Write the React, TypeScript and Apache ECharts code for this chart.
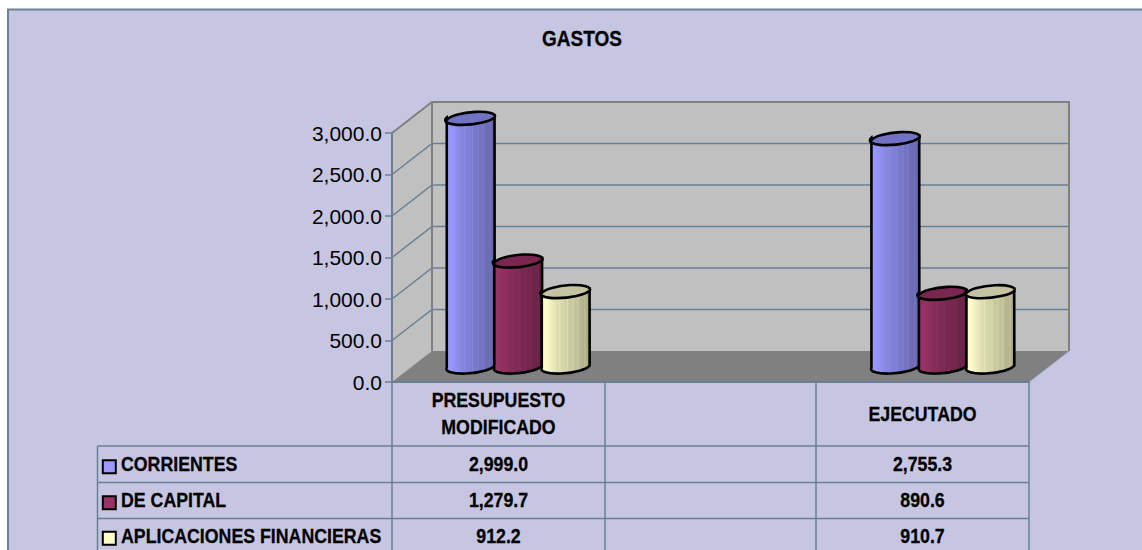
import React, { useEffect, useRef } from "react";
import * as echarts from "echarts";

const categories = ["PRESUPUESTO\nMODIFICADO", "", "EJECUTADO"];
const corrientes = [2999.0, null, 2755.3];
const deCapital = [1279.7, null, 890.6];
const aplicaciones = [912.2, null, 910.7];
const seriesNames = ["CORRIENTES", "DE CAPITAL", "APLICACIONES FINANCIERAS"];
const seriesValues = [corrientes, deCapital, aplicaciones];
const seriesColors = ["#9999FF", "#993366", "#FFFFCC"];
const seriesTops = ["#7272C4", "#7A2750", "#C4C4A2"];
const yTicks = [0, 500, 1000, 1500, 2000, 2500, 3000];

const FONT = '"Liberation Sans", Arial, sans-serif';
const NARROW = 0.845;
const SLATE = "#6A7F94";
const GREY = "#808080";
const DEPTH_X = 40;
const DEPTH_Y = 31;
const BAR_DX = 20;
const TOP_DY = 15.5;
const BASE_DY = 16.5;
const BAR_STEP = 47.5;
const RX = 24;
const RY = 6.4;
const TILT = (5.5 * Math.PI) / 180;
const stripes: [number, number][] = [
  [0, 1], [0.12, 0.98], [0.36, 0.86], [0.38, 0.9], [0.4, 0.85], [0.52, 0.82], [0.54, 0.87], [0.56, 0.8],
  [0.64, 0.78], [0.66, 0.84], [0.68, 0.76], [0.74, 0.76], [0.76, 0.8], [0.8, 0.72], [0.88, 0.7], [0.9, 0.74], [1, 0.6],
];
const rowYs = [463.3, 499.3, 535.3];
const keyYs = [459.5, 495.5, 531];
const rowLines = [446, 482.5, 518.5];
const colLines = [392, 605, 816, 1029];

const fmt = (v: number) =>
  v.toLocaleString("en-US", { minimumFractionDigits: 1, maximumFractionDigits: 1 });

function shade(hex: string, f: number) {
  const n = parseInt(hex.slice(1), 16);
  const c = [(n >> 16) & 255, (n >> 8) & 255, n & 255].map((x) => Math.round(x * f));
  return `rgb(${c[0]},${c[1]},${c[2]})`;
}

function cylinder(api: any, idx: number) {
  const v = api.value(1);
  if (v == null || isNaN(v)) return undefined;
  const top = api.coord([api.value(0), v]);
  const base = api.coord([api.value(0), 0]);
  const cx = top[0] + BAR_DX + (idx - 1) * BAR_STEP;
  const ty = top[1] - TOP_DY;
  const by = base[1] - BASE_DY;
  const ex = RX * Math.cos(TILT);
  const ey = RX * Math.sin(TILT);
  const deg = -5.5;
  const body =
    `M${cx - ex} ${ty + ey}L${cx - ex} ${by + ey}` +
    `A${RX} ${RY} ${deg} 0 0 ${cx + ex} ${by - ey}` +
    `L${cx + ex} ${ty - ey}Z`;
  const cap =
    `M${cx - ex} ${ty + ey}A${RX} ${RY} ${deg} 0 1 ${cx + ex} ${ty - ey}` +
    `A${RX} ${RY} ${deg} 0 1 ${cx - ex} ${ty + ey}Z`;
  const gradient = new echarts.graphic.LinearGradient(
    0, 0, 1, 0,
    stripes.map(([offset, f]) => ({ offset, color: shade(seriesColors[idx], f) }))
  );
  return {
    type: "group",
    children: [
      { type: "path", shape: { pathData: body }, style: { fill: gradient, stroke: "#000", lineWidth: 2.6 } },
      { type: "path", shape: { pathData: cap }, style: { fill: seriesTops[idx], stroke: "#000", lineWidth: 2.6 } },
    ],
  };
}

function walls(params: any, api: any) {
  const r = params.coordSys;
  const x0 = r.x;
  const x1 = r.x + r.width;
  const yb = r.y + r.height;
  const yt = r.y;
  const children: any[] = [
    {
      type: "polygon",
      shape: { points: [[x0, yb], [x0 + DEPTH_X, yb - DEPTH_Y], [x0 + DEPTH_X, yt - DEPTH_Y], [x0, yt]] },
      style: { fill: "#C0C0C0" },
    },
    {
      type: "rect",
      shape: { x: x0 + DEPTH_X, y: yt - DEPTH_Y, width: r.width, height: r.height },
      style: { fill: "#C0C0C0" },
    },
    {
      type: "polygon",
      shape: { points: [[x0, yb], [x0 + DEPTH_X, yb - DEPTH_Y], [x1 + DEPTH_X, yb - DEPTH_Y], [x1, yb]] },
      style: { fill: "#808080" },
    },
  ];
  yTicks.slice(1, -1).forEach((t) => {
    const y = api.coord([0, t])[1];
    children.push({
      type: "polyline",
      shape: { points: [[x0, y], [x0 + DEPTH_X, y - DEPTH_Y], [x1 + DEPTH_X, y - DEPTH_Y]] },
      style: { fill: "none", stroke: SLATE, lineWidth: 1.5 },
    });
  });
  children.push({
    type: "polyline",
    shape: {
      points: [
        [x0, yt], [x0 + DEPTH_X, yt - DEPTH_Y], [x1 + DEPTH_X, yt - DEPTH_Y], [x1 + DEPTH_X, yb - DEPTH_Y],
      ],
    },
    style: { fill: "none", stroke: GREY, lineWidth: 2 },
  });
  children.push({
    type: "line",
    shape: { x1: x0 + DEPTH_X, y1: yt - DEPTH_Y, x2: x0 + DEPTH_X, y2: yb - DEPTH_Y },
    style: { stroke: GREY, lineWidth: 2 },
  });
  children.push({
    type: "line",
    shape: { x1: x1, y1: yb, x2: x1 + DEPTH_X, y2: yb - DEPTH_Y },
    style: { stroke: "#8C9BB0", lineWidth: 1 },
  });
  return { type: "group", children };
}

// Arial Narrow is not installed: bold Liberation Sans squeezed to the same width.
function narrowText(text: string, x: number, y: number, size: number, align: string) {
  return {
    type: "text",
    z: 2,
    x,
    y,
    scaleX: NARROW,
    style: {
      x: 0,
      y: 0,
      text,
      align,
      verticalAlign: "middle",
      font: `bold ${size}px ${FONT}`,
      fill: "#000",
      stroke: "#000",
      lineWidth: 0.3,
    },
  };
}

function tableGraphics() {
  const els: any[] = [
    {
      type: "rect",
      z: -10,
      shape: { x: 8, y: 9.5, width: 1300, height: 700 },
      style: { fill: "#C6C6E2", stroke: "#6F8296", lineWidth: 2 },
    },
    narrowText("GASTOS", 582, 37.5, 22.5, "center"),
  ];
  rowLines.forEach((y) =>
    els.push({ type: "line", z: 1, shape: { x1: 97.5, y1: y, x2: colLines[3], y2: y }, style: { stroke: SLATE, lineWidth: 1.5 } })
  );
  els.push({ type: "line", z: 1, shape: { x1: 97.5, y1: rowLines[0], x2: 97.5, y2: 560 }, style: { stroke: SLATE, lineWidth: 1.5 } });
  colLines.forEach((x) =>
    els.push({ type: "line", z: 1, shape: { x1: x, y1: 382, x2: x, y2: 560 }, style: { stroke: SLATE, lineWidth: 1.5 } })
  );
  categories.forEach((cat, c) => {
    const cx = (colLines[c] + colLines[c + 1]) / 2;
    const lines = cat ? cat.split("\n") : [];
    lines.forEach((line, i) => {
      els.push(narrowText(line, cx, 413 + (i - (lines.length - 1) / 2) * 27, 21, "center"));
    });
  });
  seriesNames.forEach((name, r) => {
    els.push({
      type: "rect",
      z: 2,
      shape: { x: 102.8, y: keyYs[r] + 0.8, width: 13, height: 13 },
      style: { fill: seriesColors[r], stroke: "#000", lineWidth: 2 },
    });
    els.push(narrowText(name, 121, rowYs[r], 21, "left"));
  });
  seriesValues.forEach((vals, r) => {
    vals.forEach((v, c) => {
      if (v == null) return;
      els.push(narrowText(fmt(v), (colLines[c] + colLines[c + 1]) / 2, rowYs[r], 21, "center"));
    });
  });
  return els;
}

export default function App() {
  const ref = useRef<HTMLDivElement>(null);
  useEffect(() => {
    const chart = echarts.init(ref.current!, undefined, { renderer: "svg" });
    chart.setOption({
      animation: false,
      backgroundColor: "#FFFFFF",
      grid: { left: 392, top: 133, width: 637, height: 249, containLabel: false },
      xAxis: {
        type: "category",
        data: categories,
        z: 5,
        axisLine: { lineStyle: { color: SLATE, width: 2 } },
        axisTick: { show: false },
        axisLabel: { show: false },
      },
      yAxis: {
        type: "value",
        min: 0,
        max: 3000,
        interval: 500,
        z: 5,
        splitLine: { show: false },
        axisLine: { show: true, lineStyle: { color: SLATE, width: 2 } },
        axisTick: { show: true, length: 7, lineStyle: { color: SLATE, width: 1.5 } },
        axisLabel: {
          margin: 10,
          fontFamily: FONT,
          fontSize: 21,
          color: "#000",
          formatter: (v: number) => fmt(v),
        },
      },
      graphic: { elements: tableGraphics() },
      series: [
        {
          type: "custom",
          name: "walls",
          z: 1,
          silent: true,
          clip: false,
          coordinateSystem: "cartesian2d",
          renderItem: walls,
          data: [[0, 0]],
          encode: { x: 0, y: 1 },
        },
        ...seriesNames.map((name, idx) => ({
          type: "custom",
          name,
          z: 3 + idx,
          clip: false,
          coordinateSystem: "cartesian2d",
          itemStyle: { color: seriesColors[idx] },
          renderItem: (_p: any, api: any) => cylinder(api, idx),
          data: seriesValues[idx].map((v, i) => [i, v]),
          encode: { x: 0, y: 1 },
        })),
      ],
    });
    return () => chart.dispose();
  }, []);
  return (
    <div
      ref={ref}
      style={{ position: "absolute", left: 0, top: 0, width: 1142, height: 550, overflow: "hidden" }}
    />
  );
}
